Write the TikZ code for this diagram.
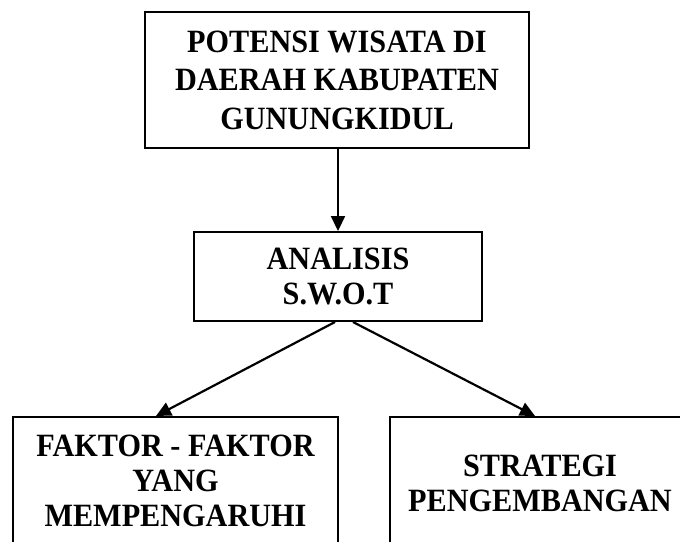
\documentclass[tikz,border=0pt]{standalone}
\usepackage{fontspec}
\setmainfont{Liberation Serif}[FakeStretch=0.93]
\usetikzlibrary{arrows.meta}
\tikzset{
  box/.style={draw=black, line width=2pt, rectangle, align=center, inner sep=0pt,
    font=\fontsize{32.5}{35}\selectfont\bfseries},
  conn/.style={line width=2.2pt, -{Triangle[width=14pt,length=15pt]}}
}
\begin{document}
\begin{tikzpicture}[x=1pt,y=-1pt]
\useasboundingbox (0,0) rectangle (680,541);
\node[box, minimum width=384pt, minimum height=136pt,
      font=\fontsize{32.5}{38.5}\selectfont\bfseries] (top) at (337,80)
  {POTENSI WISATA DI\\DAERAH KABUPATEN\\GUNUNGKIDUL};
\node[box, minimum width=288pt, minimum height=89pt] (mid) at (338,276.5)
  {ANALISIS\\S.W.O.T};
\node[box, minimum width=325pt, minimum height=128pt] (left) at (175.5,481)
  {FAKTOR - FAKTOR\\YANG\\MEMPENGARUHI};
\node[box, minimum width=300pt, minimum height=132pt] (right) at (540,483)
  {STRATEGI\\PENGEMBANGAN};
\draw[conn] (top.south -| mid.north) -- (mid.north);
\draw[conn] ([xshift=-3pt]mid.south) -- ([xshift=-19.5pt]left.north);
\draw[conn] ([xshift=15pt]mid.south) -- ([xshift=-5pt]right.north);
\end{tikzpicture}
\end{document}
